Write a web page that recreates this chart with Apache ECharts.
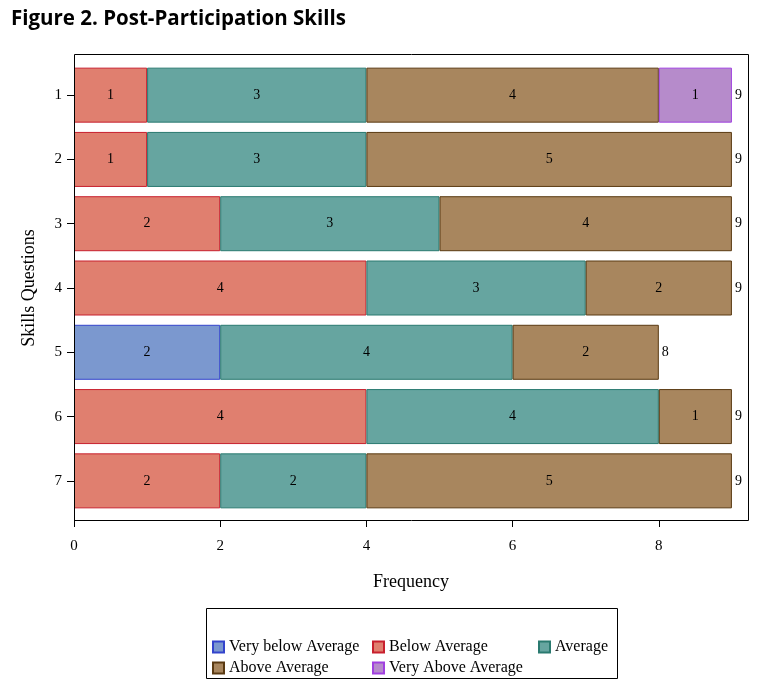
<!DOCTYPE html>
<html><head><meta charset="utf-8">
<script src="https://cdn.jsdelivr.net/npm/echarts@6/dist/echarts.min.js"></script>
<style>html,body{margin:0;padding:0;background:#fff}#c{width:759px;height:687px}</style>
</head><body><div id="c"></div>
<script>
var categories = ['1','2','3','4','5','6','7'];
var veryBelow = [0,0,0,0,2,0,0];
var below     = [1,1,2,4,0,4,2];
var average   = [3,3,3,3,4,4,2];
var above     = [4,5,4,2,2,1,5];
var veryAbove = [1,0,0,0,0,0,0];
var xTicks = [0,2,4,6,8];
var totals = categories.map(function(c,i){return veryBelow[i]+below[i]+average[i]+above[i]+veryAbove[i];});

var serif = '"Liberation Serif","DejaVu Serif",serif';
function seg(name, data, fill, border){
  return {
    name: name, type: 'bar', stack: 's', barWidth: 55,
    data: data.map(function(v){return v ? v : '-';}),
    itemStyle: {color: fill, borderColor: border, borderWidth: 1},
    label: {show: true, position: 'inside', color: '#000', fontFamily: serif, fontSize: 14,
      formatter: function(p){return String(p.value);}}
  };
}
var legendText = {fontFamily: serif, fontSize: 16, color: '#000'};
var chart = echarts.init(document.getElementById('c'));
chart.setOption({
  animation: false,
  title: {text: 'Figure 2. Post-Participation Skills', left: 6, top: 4,
    textStyle: {fontFamily: '"Open Sans","Noto Sans",sans-serif', fontWeight: 'bold', fontSize: 20.5, color: '#000'}},
  grid: {left: 74, right: 11, top: 63, bottom: 174},
  xAxis: {type: 'value', min: 0, max: 9.22, offset: 7,
    axisLine: {show: false},
    axisTick: {show: true, length: 7, lineStyle: {color: '#000'}, customValues: xTicks},
    axisLabel: {color: '#000', fontFamily: serif, fontSize: 15, margin: 19, customValues: xTicks},
    splitLine: {show: false},
    name: 'Frequency', nameLocation: 'middle', nameGap: 53,
    nameTextStyle: {color: '#000', fontFamily: serif, fontSize: 18}},
  yAxis: {type: 'category', data: categories, inverse: true,
    axisLine: {show: false},
    axisTick: {show: true, length: 7, alignWithLabel: true, lineStyle: {color: '#000'}},
    axisLabel: {color: '#000', fontFamily: serif, fontSize: 15, margin: 12},
    name: 'Skills Questions', nameLocation: 'middle', nameGap: 36, nameRotate: 90,
    nameTextStyle: {color: '#000', fontFamily: serif, fontSize: 18}},
  legend: [
    {data: ['Very below Average','Above Average'], left: 212, top: 639, padding: 0, orient: 'vertical', itemGap: 5,
      itemWidth: 11, itemHeight: 11, icon: 'rect', textStyle: legendText},
    {data: ['Below Average','Very Above Average'], left: 372, top: 639, padding: 0, orient: 'vertical', itemGap: 5,
      itemWidth: 11, itemHeight: 11, icon: 'rect', textStyle: legendText},
    {data: ['Average'], left: 538, top: 639, padding: 0, orient: 'vertical', itemGap: 5,
      itemWidth: 11, itemHeight: 11, icon: 'rect', textStyle: legendText}
  ],
  graphic: [
    {type: 'rect', shape: {x: 74.5, y: 54.5, width: 674, height: 466}, style: {fill: 'none', stroke: '#000', lineWidth: 1}, z: 100},
    {type: 'rect', shape: {x: 206.5, y: 608.5, width: 411, height: 70}, style: {fill: 'none', stroke: '#000', lineWidth: 1}, z: 100}
  ],
  series: [
    seg('Very below Average', veryBelow, '#7B98CF', '#3344CC'),
    seg('Below Average', below, '#E07F6F', '#C8202E'),
    seg('Average', average, '#66A5A0', '#2A7A70'),
    seg('Above Average', above, '#A8865E', '#5A3A12'),
    seg('Very Above Average', veryAbove, '#B68BCB', '#A040E0'),
    {type: 'scatter', symbolSize: 0, silent: true, itemStyle: {opacity: 1},
      data: totals.map(function(t,i){return [t, categories[i]];}),
      label: {show: true, position: 'right', distance: 3, color: '#000', fontFamily: serif, fontSize: 14,
        formatter: function(p){return String(p.value[0]);}}}
  ]
});
</script></body></html>
